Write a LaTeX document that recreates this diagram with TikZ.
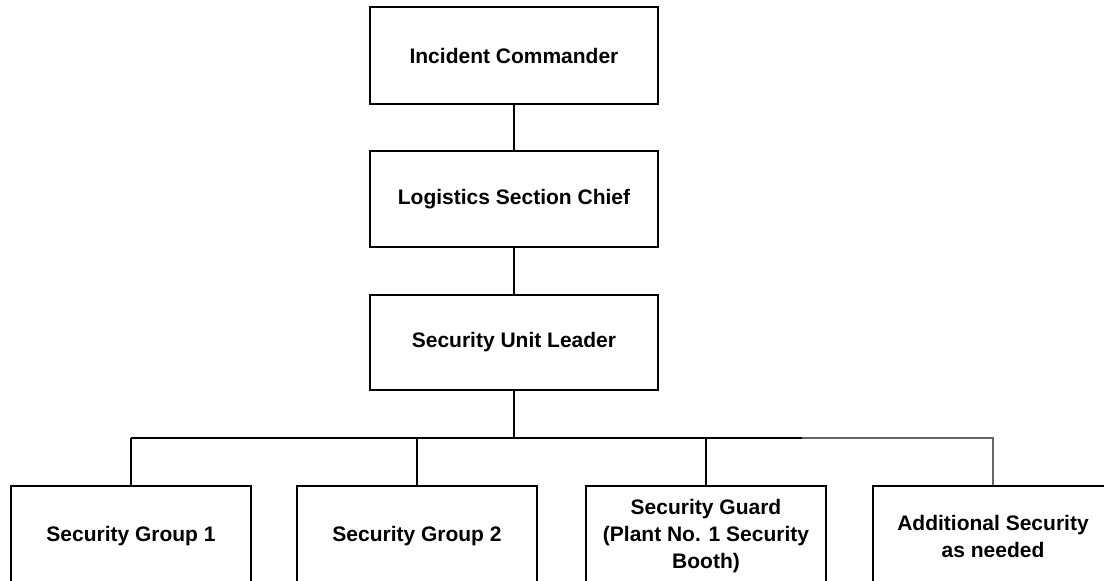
\documentclass[tikz,border=0pt]{standalone}
\usepackage{fontspec}
\setmainfont{Liberation Sans}
\usetikzlibrary{positioning, calc}

\begin{document}
\begin{tikzpicture}[x=1pt,y=-1pt,
    box/.style={draw,line width=1.5pt,minimum width=288pt,inner sep=2pt,
        font=\fontsize{21}{27}\selectfont\bfseries,align=center},
    unit/.style={box,minimum width=240pt,minimum height=100pt},
    link/.style={line width=1.5pt}]
    \useasboundingbox (0,0) rectangle (1104,581);
    \clip (0,0) rectangle (1104,581);

    % command chain
    \node[box,minimum height=97pt] (ic) at (514,55.5) {Incident Commander};
    \node[box,minimum height=96pt] (lsc) at (514,199) {Logistics Section Chief};
    \node[box,minimum height=95pt] (sul) at (514,342.5) {Security Unit Leader};

    % security groups (bottom row runs off the page)
    \node[unit] (grp1) at (131,536) {Security Group 1};
    \node[unit] (grp2) at (417,536) {Security Group 2};
    \node[unit] (guard) at (706,536) {Security Guard\\(Plant No. 1 Security\\Booth)};
    \node[unit] (extra) at (993,536) {Additional Security\\as needed};

    \coordinate (bus) at (514,438);
    \coordinate (fade) at (802,438);

    \draw[link] (ic.south) -- (lsc.north);
    \draw[link] (lsc.south) -- (sul.north);
    \draw[link] (sul.south) -- (bus);
    \draw[link] (bus -| grp1.north) -- (fade); % bus bar
    \draw[link] (bus -| grp1.north) -- (grp1.north);
    \draw[link] (bus -| grp2.north) -- (grp2.north);
    \draw[link] (bus -| guard.north) -- (guard.north);
    \draw[black!60,line width=1.2pt] (fade) -- (bus -| extra.north) -- (extra.north); % as needed
\end{tikzpicture}
\end{document}
